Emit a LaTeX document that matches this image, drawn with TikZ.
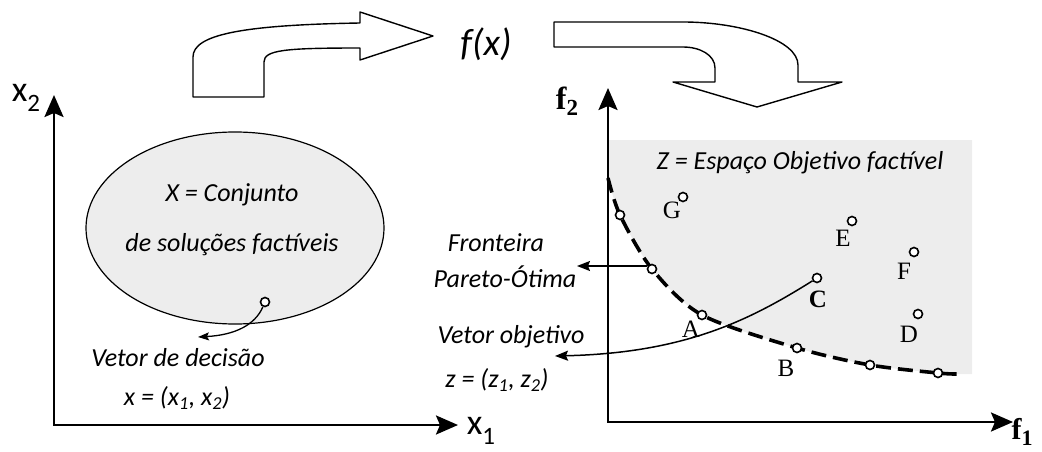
\documentclass[tikz,border=0pt]{standalone}
\usepackage{fontspec}
\setmainfont{Carlito}
\newfontfamily\serif{Liberation Serif}
\usetikzlibrary{arrows.meta,shapes.geometric}
\begin{document}
\begin{tikzpicture}[x=1pt,y=-1pt,
  axes/.style={line width=2.6pt, line join=miter,
    {Stealth[length=22pt,width=19pt,inset=4pt]}-{Stealth[length=22pt,width=19pt,inset=4pt]}},
  blockarrow/.style={draw, line width=1.4pt, fill=white, line join=round},
  pt/.style={circle, draw, line width=1.6pt, fill=white, inner sep=0pt, minimum size=9pt},
  lbl/.style={font=\fontsize{26}{30}\selectfont\itshape, inner sep=0pt},
  ser/.style={font=\serif\fontsize{25}{27}\selectfont, inner sep=0pt},
  ptr/.style={line width=1.5pt, -{Stealth[length=13pt,width=10pt,inset=2pt]}},
  ptrs/.style={line width=1.3pt, -{Stealth[length=11pt,width=8pt,inset=2pt]}},
  pareto/.style={line width=3.6pt, dash pattern=on 15pt off 7pt},
]
\useasboundingbox (0,0) rectangle (1042,452);

% ---------- top block arrows ----------
\draw[blockarrow] (193,97) -- (193,57) .. controls (193,35) and (240,25) .. (360,23)
  -- (360,12) -- (433,36) -- (360,60) -- (360,48)
  .. controls (285,48) and (264,50) .. (264,62) -- (264,97) -- cycle;
\node[font=\fontsize{38}{40}\selectfont\itshape, inner sep=0pt] (fx) at (486,44) {f(x)};
\draw[blockarrow] (554,22) -- (683,22) .. controls (740,22) and (798,40) .. (798,65)
  -- (798,82) -- (842,82) -- (757,107) -- (673,82) -- (715,82) -- (715,68)
  .. controls (715,55) and (700,47) .. (683,47) -- (554,47) -- cycle;

% ---------- left plot ----------
\coordinate (ly) at (54,95);
\coordinate (lo) at (54,425);
\coordinate (lx) at (458,425);
\draw[axes] (ly) -- (lo) -- (lx);
\node[inner sep=0pt, font=\fontsize{36}{38}\selectfont] (lx2) at (26,98) {x\raisebox{-0.28em}{\fontsize{25}{25}\selectfont 2}};
\node[inner sep=0pt, font=\fontsize{36}{38}\selectfont] (lx1) at (481,431) {x\raisebox{-0.28em}{\fontsize{25}{25}\selectfont 1}};

\node[ellipse, draw, line width=1.2pt, fill=black!7, minimum width=298pt, minimum height=192pt] (X) at (235,228) {};
\node[lbl] (xt1) at (232,195) {X = Conjunto};
\node[lbl] (xt2) at (232,245) {de soluções factíveis};
\node[pt] (xp) at (265,302) {};
\coordinate (dtip) at (198,337);
\draw[ptrs] (xp) .. controls (255,325) and (235,335) .. (dtip);
\node[lbl] (vd) at (178,358) {Vetor de decisão};
\node[lbl] (vx) at (177,398) {x = (x\textsubscript{1}, x\textsubscript{2})};

% ---------- right plot ----------
\fill[black!7] plot[smooth] coordinates {(608,178) (620,215) (652,269) (702,315) (797,348) (870,365) (938,373) (958,374)}
  -- (972,374) -- (972,140) -- (608,140) -- cycle;
\coordinate (ry) at (608,88);
\coordinate (ro) at (608,422);
\coordinate (rx) at (1013,422);
\draw[axes] (ry) -- (ro) -- (rx);
\node[inner sep=0pt, font=\serif\bfseries\fontsize{32}{34}\selectfont] (f2) at (567,101) {f\raisebox{-0.2em}{\fontsize{23}{23}\selectfont 2}};
\node[inner sep=0pt, font=\serif\bfseries\fontsize{30}{32}\selectfont] (f1) at (1022,432) {f\raisebox{-0.2em}{\fontsize{22}{22}\selectfont 1}};

\node[lbl] (zt) at (800,163) {Z = Espaço Objetivo factível};

\draw[pareto] plot[smooth] coordinates {(608,178) (620,215) (652,269) (702,315) (797,348) (870,365) (938,373) (958,374)};

\node[pt] (p1) at (620,215) {};
\node[pt] (p2) at (652,269) {};
\node[pt] (pA) at (702,315) {};
\node[pt] (pB) at (797,348) {};
\node[pt] (p5) at (870,365) {};
\node[pt] (p6) at (938,373) {};
\node[pt] (pG) at (683,197) {};
\node[pt] (pE) at (852,221) {};
\node[pt] (pF) at (914,252) {};
\node[pt] (pC) at (817,278) {};
\node[pt] (pD) at (918,314) {};

\node[ser] (lA) at (691,329) {A};
\node[ser] (lB) at (786,368) {B};
\node[ser, font=\serif\bfseries\fontsize{25}{27}\selectfont] (lC) at (818,299) {C};
\node[ser] (lD) at (909,334) {D};
\node[ser] (lE) at (843,238) {E};
\node[ser] (lF) at (904,271) {F};
\node[ser] (lG) at (672,210) {G};

\coordinate (fr) at (577,266);
\draw[ptr] (p2.west |- fr) -- (fr);
\node[lbl] (tf1) at (496,243) {Fronteira};
\node[lbl] (tf2) at (505,277) {Pareto-Ótima};

\coordinate (vo) at (555,356);
\draw[ptr] (pC) .. controls (750,320) and (685,353) .. (vo);
\node[lbl] (tv1) at (511,337) {Vetor objetivo};
\node[lbl] (tv2) at (497,380) {z = (z\textsubscript{1}, z\textsubscript{2})};
\end{tikzpicture}
\end{document}
